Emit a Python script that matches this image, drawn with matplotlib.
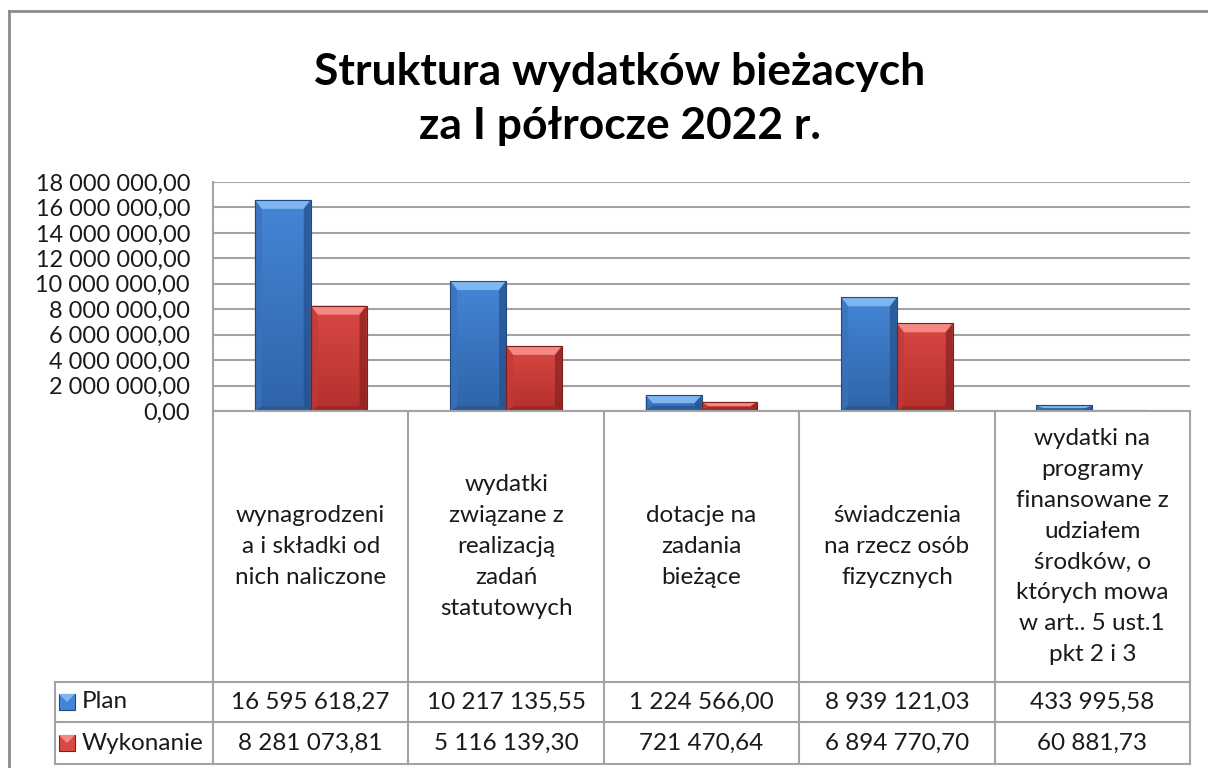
import matplotlib
matplotlib.use('Agg')
import matplotlib.pyplot as plt
import numpy as np
from matplotlib.patches import Polygon, Rectangle
from matplotlib.colors import LinearSegmentedColormap

# data
categories = ['wynagrodzeni\na i składki od\nnich naliczone',
              'wydatki\nzwiązane z\nrealizacją\nzadań\nstatutowych',
              'dotacje na\nzadania\nbieżące',
              'świadczenia\nna rzecz osób\nfizycznych',
              'wydatki na\nprogramy\nfinansowane z\nudziałem\nśrodków, o\nktórych mowa\nw art.. 5 ust.1\npkt 2 i 3']
plan = [16595618.27, 10217135.55, 1224566.00, 8939121.03, 433995.58]
wykonanie = [8281073.81, 5116139.30, 721470.64, 6894770.70, 60881.73]
series_names = ['Plan', 'Wykonanie']
title = 'Struktura wydatków bieżacych\nza I półrocze 2022 r.'
y_max = 18000000
y_step = 2000000

W, H = 1208, 768
FONT = 'Lato'
GRID = '#a3a3a3'
TXT = '#1a1a1a'

# colours: face top, face bottom, top bevel, side bevel, dark bevel, outline
styles = [
    dict(top='#4486d6', bot='#2f64a8', light='#7fb6f0', side='#3a72bb', dark='#234f8a', edge='#1f4a80'),
    dict(top='#d94843', bot='#b5302d', light='#f48884', side='#c23a36', dark='#862220', edge='#7a1f1d'),
]


def pl_num(v):
    return f'{v:,.2f}'.replace(',', ' ').replace('.', ',')


fig = plt.figure(figsize=(W / 100, H / 100), dpi=100)
fig.patch.set_facecolor('white')
renderer = fig.canvas.get_renderer()


def fit_size(s, px, **kw):
    t = fig.text(0, 0, s, fontsize=20, family=FONT, **kw)
    w = t.get_window_extent(renderer).width
    t.remove()
    return 20 * px / w


# plot box in pixels (from top-left)
pl_left, pl_right, pl_top, pl_bot = 213, 1190, 182, 411
ax = fig.add_axes([pl_left / W, (H - pl_bot) / H, (pl_right - pl_left) / W, (pl_bot - pl_top) / H])

n = len(categories)
x = np.arange(n)
bw = 1 / 3.5
xlim = (-0.5, n - 0.5)
ylim = (0, y_max)
ppx = (xlim[1] - xlim[0]) / (pl_right - pl_left)
ppy = (ylim[1] - ylim[0]) / (pl_bot - pl_top)

grad = np.linspace(1, 0, 64).reshape(-1, 1)
for k, (vals, st) in enumerate(zip([plan, wykonanie], styles)):
    bars = ax.bar(x + (k - 0.5) * bw, vals, bw, color=st['top'], zorder=2, linewidth=0)
    cmap = LinearSegmentedColormap.from_list('g', [st['bot'], st['top']])
    for r in bars:
        x0, w, h = r.get_x(), r.get_width(), r.get_height()
        x1 = x0 + w
        im = ax.imshow(grad, extent=(x0, x1, 0, h), cmap=cmap, aspect='auto', zorder=2.1,
                       interpolation='bilinear')
        im.set_clip_path(r)
        bx = 7 * ppx
        by = min(9 * ppy, h / 2)
        bb = min(5 * ppy, h / 2)
        ax.add_patch(Polygon([(x0, h), (x1, h), (x1 - bx, h - by), (x0 + bx, h - by)],
                             fc=st['light'], ec='none', zorder=2.2))
        ax.add_patch(Polygon([(x0, 0), (x0, h), (x0 + bx, h - by), (x0 + bx, bb)],
                             fc=st['side'], ec='none', zorder=2.2, alpha=0.7))
        ax.add_patch(Polygon([(x1, 0), (x1, h), (x1 - bx, h - by), (x1 - bx, bb)],
                             fc=st['dark'], ec='none', zorder=2.2, alpha=0.7))
        ax.add_patch(Polygon([(x0, 0), (x1, 0), (x1 - bx, bb), (x0 + bx, bb)],
                             fc=st['dark'], ec='none', zorder=2.2, alpha=0.5))
        ax.add_patch(Rectangle((x0, 0), w, h, fc='none', ec=st['edge'], lw=0.8, zorder=2.3))

ax.set_xlim(*xlim)
ax.set_ylim(*ylim)
ax.set_yticks(np.arange(0, y_max + 1, y_step))
tick_fs = fit_size('18 000 000,00', 154)
ax.set_yticklabels([pl_num(v) for v in ax.get_yticks()], fontsize=tick_fs, family=FONT, color=TXT)
ax.tick_params(axis='y', length=0, pad=(pl_left - 190) * 0.72)
ax.set_xticks([])
ax.grid(axis='y', color=GRID, lw=1.5, zorder=0)
ax.set_axisbelow(True)
for s in ['top', 'right']:
    ax.spines[s].set_visible(False)
for s in ['left', 'bottom']:
    ax.spines[s].set_color(GRID)
    ax.spines[s].set_linewidth(1.5)

# overlay in pixel coordinates for the data table and the frame
ov = fig.add_axes([0, 0, 1, 1], zorder=5)
ov.set_xlim(0, W)
ov.set_ylim(H, 0)
ov.axis('off')
ov.patch.set_alpha(0)

fig.canvas.draw()
bounds = [ax.transData.transform((i - 0.5, 0))[0] for i in range(n + 1)]
centers = [ax.transData.transform((i, 0))[0] for i in range(n)]

leg_left = 55
row_top, row_mid, row_bot = 682, 722, 764
tkw = dict(color=GRID, lw=1.5)
for b in bounds:
    ov.plot([b, b], [pl_bot, row_bot], **tkw)
ov.plot([leg_left, leg_left], [row_top, row_bot], **tkw)
for yy in [row_top, row_mid, row_bot]:
    ov.plot([leg_left, bounds[-1]], [yy, yy], **tkw)

tab_fs = fit_size('16 595 618,27', 159)
lab_mid = (pl_bot + row_top) / 2
for c, lab in zip(centers, categories):
    ov.text(c, lab_mid, lab, ha='center', va='center', multialignment='center',
            fontsize=tab_fs, family=FONT, color=TXT, linespacing=1.58)

for k, (vals, name, st) in enumerate(zip([plan, wykonanie], series_names, styles)):
    yc = (row_top + row_mid) / 2 if k == 0 else (row_mid + row_bot) / 2
    for c, v in zip(centers, vals):
        ov.text(c, yc, pl_num(v), ha='center', va='center', fontsize=tab_fs, family=FONT, color=TXT)
    ov.add_patch(Rectangle((leg_left + 4, yc - 8), 16, 16, fc=st['top'], ec=st['edge'], lw=0.8))
    ov.add_patch(Polygon([(leg_left + 4, yc - 8), (leg_left + 20, yc - 8), (leg_left + 12, yc)],
                         fc=st['light'], ec='none'))
    ov.text(leg_left + 27, yc, name, ha='left', va='center', fontsize=tab_fs, family=FONT, color=TXT)

# outer chart frame (cropped on the right and bottom)
ov.plot([9, 9], [11, H], color='#8c8c8c', lw=2)
ov.plot([9, W], [11, 11], color='#8c8c8c', lw=2)

title_fs = fit_size('Struktura wydatków bieżacych', 610, weight='bold')
ov.text(620, 99, title, ha='center', va='center', fontsize=title_fs, family=FONT,
        weight='bold', color='black', linespacing=1.42)

fig.savefig('out.png', dpi=100)
